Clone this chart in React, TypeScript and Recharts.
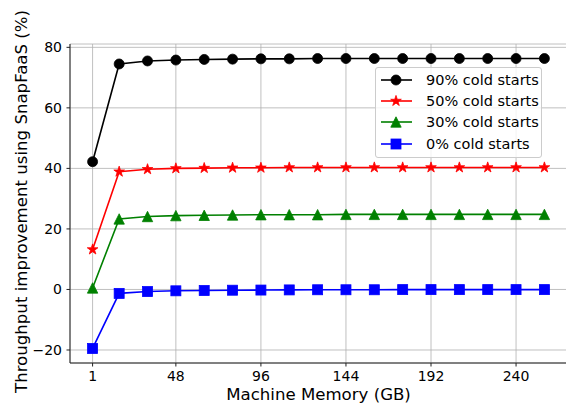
import React from 'react';
import { LineChart, Line, XAxis, YAxis, CartesianGrid, Legend } from 'recharts';

const memoryGB = [1, 16, 32, 48, 64, 80, 96, 112, 128, 144, 160, 176, 192, 208, 224, 240, 256];
const cold90 = [42.2, 74.5, 75.5, 75.8, 76.0, 76.1, 76.2, 76.2, 76.3, 76.3, 76.3, 76.3, 76.3, 76.3, 76.3, 76.3, 76.3];
const cold50 = [13.2, 38.9, 39.7, 40.0, 40.1, 40.2, 40.2, 40.3, 40.3, 40.3, 40.3, 40.3, 40.3, 40.3, 40.3, 40.3, 40.3];
const cold30 = [0.5, 23.3, 24.1, 24.4, 24.5, 24.6, 24.7, 24.7, 24.7, 24.8, 24.8, 24.8, 24.8, 24.8, 24.8, 24.8, 24.8];
const cold0 = [-19.5, -1.3, -0.7, -0.45, -0.35, -0.25, -0.2, -0.15, -0.1, -0.1, -0.1, -0.05, -0.05, -0.05, -0.05, -0.05, -0.05];
const xTicks = [1, 48, 96, 144, 192, 240];
const yTicks = [-20, 0, 20, 40, 60, 80];

const seriesInfo = [
  { key: 'c90', name: '90% cold starts', color: '#000000', shape: 'circle' },
  { key: 'c50', name: '50% cold starts', color: '#ff0000', shape: 'star' },
  { key: 'c30', name: '30% cold starts', color: '#008000', shape: 'triangle' },
  { key: 'c0', name: '0% cold starts', color: '#0000ff', shape: 'square' },
];

const data = memoryGB.map((m, i) => ({ m, c90: cold90[i], c50: cold50[i], c30: cold30[i], c0: cold0[i] }));

const FONT = '"DejaVu Sans", sans-serif';

function Marker({ cx, cy, shape, color }: { cx: number; cy: number; shape: string; color: string }) {
  if (cx == null || cy == null) return null;
  if (shape === 'circle') return <circle cx={cx} cy={cy} r={5} fill={color} stroke={color} strokeWidth={0.8} />;
  if (shape === 'square') return <rect x={cx - 5} y={cy - 5} width={10} height={10} fill={color} stroke={color} strokeWidth={0.8} />;
  if (shape === 'triangle') {
    const p = `${cx},${cy - 5.2} ${cx - 5.2},${cy + 5.2} ${cx + 5.2},${cy + 5.2}`;
    return <polygon points={p} fill={color} stroke={color} strokeWidth={0.8} strokeLinejoin="miter" />;
  }
  const R = 5.6;
  const r = R * 0.382;
  const pts: string[] = [];
  for (let k = 0; k < 10; k++) {
    const rad = k % 2 === 0 ? R : r;
    const a = -Math.PI / 2 + (k * Math.PI) / 5;
    pts.push(`${cx + rad * Math.cos(a)},${cy + rad * Math.sin(a)}`);
  }
  return <polygon points={pts.join(' ')} fill={color} stroke={color} strokeWidth={0.8} />;
}

function makeDot(shape: string, color: string) {
  return (props: any) => <Marker key={`${shape}-${props.index}`} cx={props.cx} cy={props.cy} shape={shape} color={color} />;
}

function LegendBox() {
  return (
    <div
      style={{
        width: 165,
        height: 88,
        border: '1px solid #cccccc',
        borderRadius: 3,
        background: 'rgba(255,255,255,0.8)',
        fontFamily: FONT,
        fontSize: 14.5,
        color: '#000',
        paddingTop: 1,
        boxSizing: 'content-box',
        textAlign: 'left',
      }}
    >
      {seriesInfo.map((s) => (
        <div key={s.key} style={{ display: 'flex', alignItems: 'center', height: 21.4 }}>
          <svg width={44} height={20} style={{ marginLeft: 4, flex: 'none' }}>
            <line x1={1} y1={10} x2={32} y2={10} stroke={s.color} strokeWidth={1.6} />
            <Marker cx={16} cy={10} shape={s.shape} color={s.color} />
          </svg>
          <span style={{ marginLeft: 2, whiteSpace: 'nowrap' }}>{s.name}</span>
        </div>
      ))}
    </div>
  );
}

function YLabel(props: any) {
  const vb = props.viewBox || { x: 0, y: 0, width: 0, height: 0 };
  const x = 27;
  const y = vb.y + vb.height / 2 - 2;
  return (
    <text x={x} y={y} transform={`rotate(-90, ${x}, ${y})`} textAnchor="middle" fontFamily={FONT} fontSize={16.6} fill="#000">
      Throughput improvement using SnapFaaS (%)
    </text>
  );
}

function XLabel(props: any) {
  const vb = props.viewBox || { x: 0, y: 0, width: 0, height: 0 };
  const x = vb.x + vb.width / 2;
  return (
    <text x={x} y={400} textAnchor="middle" fontFamily={FONT} fontSize={16.6} fill="#000">
      Machine Memory (GB)
    </text>
  );
}

const fmtY = (v: number) => (v < 0 ? '\u2212' + Math.abs(v) : String(v));

export default function App() {
  return (
    <div style={{ position: 'absolute', left: 0, top: 0, width: 566, height: 404, overflow: 'hidden', background: '#fff' }}>
      <LineChart width={570} height={404} data={data} margin={{ top: 44, right: 3, bottom: 0, left: 0 }}>
        <CartesianGrid stroke="#b0b0b0" strokeWidth={0.8} />
        <XAxis
          dataKey="m"
          type="number"
          domain={[-11.75, 268.75]}
          ticks={xTicks}
          interval={0}
          allowDataOverflow
          height={41}
          tickSize={3.5}
          tickMargin={5}
          axisLine={{ stroke: '#222', strokeWidth: 1 }}
          tickLine={{ stroke: '#222', strokeWidth: 1 }}
          tick={{ fill: '#000', fontSize: 14, fontFamily: FONT }}
          label={<XLabel />}
        />
        <XAxis
          xAxisId="top"
          orientation="top"
          type="number"
          domain={[-11.75, 268.75]}
          height={0}
          tick={false}
          tickLine={false}
          axisLine={{ stroke: '#222', strokeWidth: 1 }}
        />
        <YAxis
          type="number"
          domain={[-24.3, 81.1]}
          ticks={yTicks}
          interval={0}
          allowDataOverflow
          width={70}
          tickSize={3.5}
          tickMargin={4.5}
          tickFormatter={fmtY}
          axisLine={{ stroke: '#222', strokeWidth: 1 }}
          tickLine={{ stroke: '#222', strokeWidth: 1 }}
          tick={{ fill: '#000', fontSize: 14, fontFamily: FONT }}
          label={<YLabel />}
        />
        {seriesInfo.map((s) => (
          <Line
            key={s.key}
            dataKey={s.key}
            name={s.name}
            stroke={s.color}
            strokeWidth={1.6}
            dot={makeDot(s.shape, s.color)}
            activeDot={false}
            isAnimationActive={false}
          />
        ))}
        <Legend
          layout="horizontal"
          verticalAlign="middle"
          align="center"
          content={<LegendBox />}
          wrapperStyle={{ position: 'absolute', left: 375, top: 67, width: 167, height: 90 }}
        />
      </LineChart>
    </div>
  );
}
